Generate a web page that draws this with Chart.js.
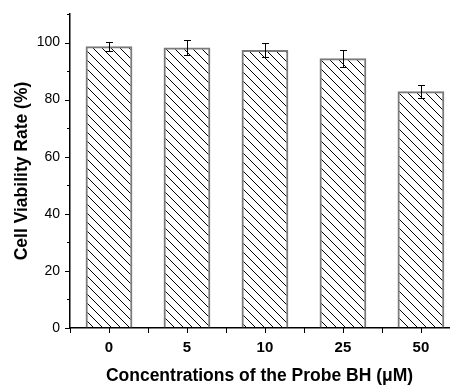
<!DOCTYPE html>
<html>
<head>
<meta charset="utf-8">
<script src="https://cdn.jsdelivr.net/npm/chart.js@4.4.1/dist/chart.umd.min.js"></script>
<style>
  html, body { margin: 0; padding: 0; background: #fff; }
  #wrap { width: 457px; height: 385px; }
</style>
</head>
<body>
<div id="wrap"><canvas id="chart"></canvas></div>
<script>
// concentrations of probe BH (uM) and cell viability (%) with error
const concentrations = ['0', '5', '10', '25', '50'];
const viability = [98.7, 98.3, 97.4, 94.5, 82.9];
const viabilityErr = [1.5, 2.6, 2.4, 3.0, 2.2];
const yLabelStep = 20;

const FONT = "'Liberation Sans', Arial, sans-serif";

// diagonal hatching like the original bars
function makeHatch() {
    const s = 9;
    const c = document.createElement('canvas');
    c.width = s;
    c.height = s;
    const g = c.getContext('2d');
    g.strokeStyle = '#000';
    g.lineWidth = 1;
    g.beginPath();
    [-s, 0, s].forEach(k => {
        g.moveTo(k, 0);
        g.lineTo(k + s, s);
    });
    g.stroke();
    return g.createPattern(c, 'repeat');
}

const errorBars = {
    id: 'errorBars',
    afterDatasetsDraw(chart) {
        const meta = chart.getDatasetMeta(0);
        const y = chart.scales.y;
        const ctx = chart.ctx;
        ctx.save();
        ctx.strokeStyle = '#000';
        ctx.lineWidth = 1;
        ctx.beginPath();
        meta.data.forEach((bar, i) => {
            const x = Math.round(bar.x) + 0.5;
            const top = Math.round(y.getPixelForValue(viability[i] + viabilityErr[i])) + 0.5;
            const bot = Math.round(y.getPixelForValue(viability[i] - viabilityErr[i])) + 0.5;
            ctx.moveTo(x, top); ctx.lineTo(x, bot);
            ctx.moveTo(x - 3.5, top); ctx.lineTo(x + 3.5, top);
            ctx.moveTo(x - 3.5, bot); ctx.lineTo(x + 3.5, bot);
        });
        ctx.stroke();
        ctx.restore();
    }
};

// outward ticks, shorter minor ticks on y
const axisTicks = {
    id: 'axisTicks',
    afterDraw(chart) {
        const { ctx, chartArea, scales: { x, y } } = chart;
        ctx.save();
        ctx.strokeStyle = '#000';
        ctx.lineWidth = 1;
        ctx.beginPath();
        y.ticks.forEach(t => {
            const py = Math.round(y.getPixelForValue(t.value)) + 0.5;
            const len = t.value % yLabelStep === 0 ? 5 : 3;
            ctx.moveTo(chartArea.left - len, py);
            ctx.lineTo(chartArea.left, py);
        });
        x.ticks.forEach(t => {
            const px = Math.round(x.getPixelForValue(t.value)) + 0.5;
            ctx.moveTo(px, chartArea.bottom);
            ctx.lineTo(px, chartArea.bottom + 5);
        });
        ctx.stroke();
        ctx.restore();
    }
};

new Chart(document.getElementById('chart'), {
    type: 'bar',
    data: {
        datasets: [{
            data: viability.map((v, i) => ({ x: i, y: v })),
            backgroundColor: makeHatch(),
            borderColor: '#7a7a7a',
            borderWidth: 2,
            categoryPercentage: 1,
            // min sample size is the half-step tick spacing, so 1.2 => 60% of a category
            barPercentage: 1.2
        }]
    },
    options: {
        responsive: true,
        maintainAspectRatio: false,
        animation: false,
        layout: { padding: { top: 14, right: 8, left: 0, bottom: 0 } },
        plugins: {
            legend: { display: false },
            tooltip: { enabled: false }
        },
        scales: {
            x: {
                type: 'linear',
                min: -0.5,
                max: 4.36,
                offset: false,
                afterBuildTicks: scale => {
                    const t = [];
                    concentrations.forEach((c, i) => {
                        t.push({ value: i - 0.5 });
                        t.push({ value: i });
                    });
                    scale.ticks = t;
                },
                afterFit: scale => { scale.height = 57; },
                grid: { display: true, offset: false, drawOnChartArea: false, tickLength: 5, tickColor: 'transparent' },
                border: { display: true, color: '#000', width: 1.5 },
                ticks: {
                    autoSkip: false,
                    maxRotation: 0,
                    padding: 6,
                    color: '#000',
                    font: { family: FONT, size: 15, weight: 'bold' },
                    callback: v => Number.isInteger(v) ? concentrations[v] : ''
                },
                title: {
                    display: true,
                    text: 'Concentrations of the Probe BH (μM)',
                    color: '#000',
                    font: { family: FONT, size: 17.5, weight: 'bold', lineHeight: 1 },
                    padding: { top: 0, bottom: 0 }
                }
            },
            y: {
                min: 0,
                max: 110,
                afterFit: scale => { scale.width = 70; },
                grid: { display: true, drawOnChartArea: false, tickLength: 5, tickColor: 'transparent' },
                border: { display: true, color: '#000', width: 1.5 },
                ticks: {
                    stepSize: 10,
                    padding: 5,
                    color: '#000',
                    font: { family: FONT, size: 14 },
                    callback: v => (v % yLabelStep === 0 && v <= 100) ? v : ''
                },
                title: {
                    display: true,
                    text: 'Cell Viability Rate (%)',
                    color: '#000',
                    font: { family: FONT, size: 17.5, weight: 'bold', lineHeight: 1 },
                    padding: { top: 13, bottom: 0 }
                }
            }
        }
    },
    plugins: [errorBars, axisTicks]
});
</script>
</body>
</html>
